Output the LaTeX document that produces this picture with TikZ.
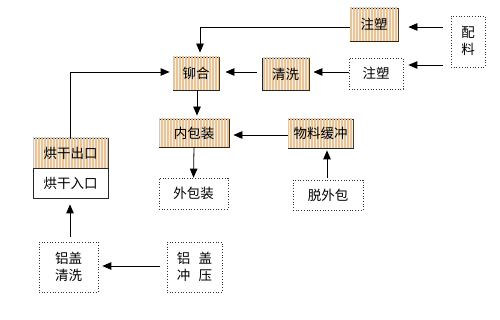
\documentclass[tikz,border=0pt]{standalone}
\usepackage{fontspec}
\setmainfont{Noto Sans CJK SC}
\usetikzlibrary{arrows.meta,patterns.meta,calc}
\definecolor{tanbg}{HTML}{FAEEDC}
\definecolor{tanline}{HTML}{E6C59C}
\begin{document}
\begin{tikzpicture}[x=1pt,y=-1pt,
  font=\fontsize{13.5}{17}\selectfont,
  solidbox/.style={draw=black!85, line width=0.8pt, fill=tanbg,
    postaction={pattern={Lines[angle=90,distance=3pt,line width=1.4pt]}, pattern color=tanline},
    inner sep=0pt, align=center},
  plainbox/.style={draw=black!85, line width=0.8pt, fill=white, inner sep=0pt, align=center},
  dotbox/.style={draw=black!80, dotted, line width=0.7pt, inner sep=0pt, align=center},
  arr/.style={line width=0.8pt, -{Triangle[length=9pt,width=7.5pt]}},
  ln/.style={line width=0.8pt}]
\useasboundingbox (0,0) rectangle (500,320);
\node[solidbox, minimum width=48pt, minimum height=33pt] (zs1) at (374,24.5) {注塑};
\node[dotbox, minimum width=34pt, minimum height=51pt] (pl) at (468,41.5) {配\\料};
\node[dotbox, minimum width=54pt, minimum height=31pt] (zs2) at (376,73.5) {注塑};
\node[solidbox, minimum width=47pt, minimum height=32pt] (qx) at (285.5,74) {清洗};
\node[solidbox, minimum width=46pt, minimum height=33pt] (mh) at (196,73.5) {铆合};
\node[solidbox, minimum width=70pt, minimum height=28pt] (nbz) at (194,133) {内包装};
\node[solidbox, minimum width=65pt, minimum height=29pt] (wlhc) at (320.5,133.5) {物料缓冲};
\node[dotbox, minimum width=69pt, minimum height=31pt] (wbz) at (193.5,193.5) {外包装};
\node[dotbox, minimum width=70pt, minimum height=30pt] (twb) at (328,195) {脱外包};
\node[solidbox, minimum width=75pt, minimum height=30pt] (hgc) at (70.5,153) {烘干出口};
\node[plainbox, minimum width=75pt, minimum height=30pt] (hgr) at (70.5,183) {烘干入口};
\node[dotbox, minimum width=59pt, minimum height=50pt] (lgqx) at (68.5,267) {铝盖\\清洗};
\node[dotbox, minimum width=55pt, minimum height=50pt] (lgcy) at (194.5,267) {铝\hspace{0.6em}盖\\冲\hspace{0.6em}压};
% connectors
\draw[arr, shorten <=8pt, shorten >=10pt] (pl.west |- 0,27) -- (zs1.east |- 0,27);
\draw[arr, shorten <=8pt, shorten >=5pt] (pl.west |- 0,65) -- (zs2.east |- 0,65);
\draw[arr, shorten >=4pt] (zs2.west |- 0,72) -- (qx.east |- 0,72);
\draw[arr, shorten <=5pt, shorten >=6pt] (qx.west |- 0,72) -- (mh.east |- 0,72);
\draw[arr, shorten >=4pt] (zs1.west |- 0,27) -| ([xshift=4pt]mh.north);
\draw[arr, shorten >=3pt] (hgc.north) |- (mh.west |- 0,72);
\draw[arr, shorten >=3pt] ([xshift=1pt]mh.south) -- ([xshift=1pt]mh.south |- nbz.north);
\draw[arr, shorten >=4pt] (wlhc.west |- 0,135) -- (nbz.east |- 0,135);
\draw[arr] (nbz.south) -- (wbz.north);
\draw[arr, shorten <=2pt, shorten >=2pt] ([xshift=-1pt]twb.north) -- ([xshift=-1pt]twb.north |- wlhc.south);
\draw[arr, shorten <=5pt, shorten >=6pt] ([xshift=1.5pt]lgqx.north) -- ([xshift=1.5pt]lgqx.north |- hgr.south);
\draw[arr, shorten <=7pt, shorten >=4pt] (lgcy.west |- 0,266) -- (lgqx.east |- 0,266);
\end{tikzpicture}
\end{document}
